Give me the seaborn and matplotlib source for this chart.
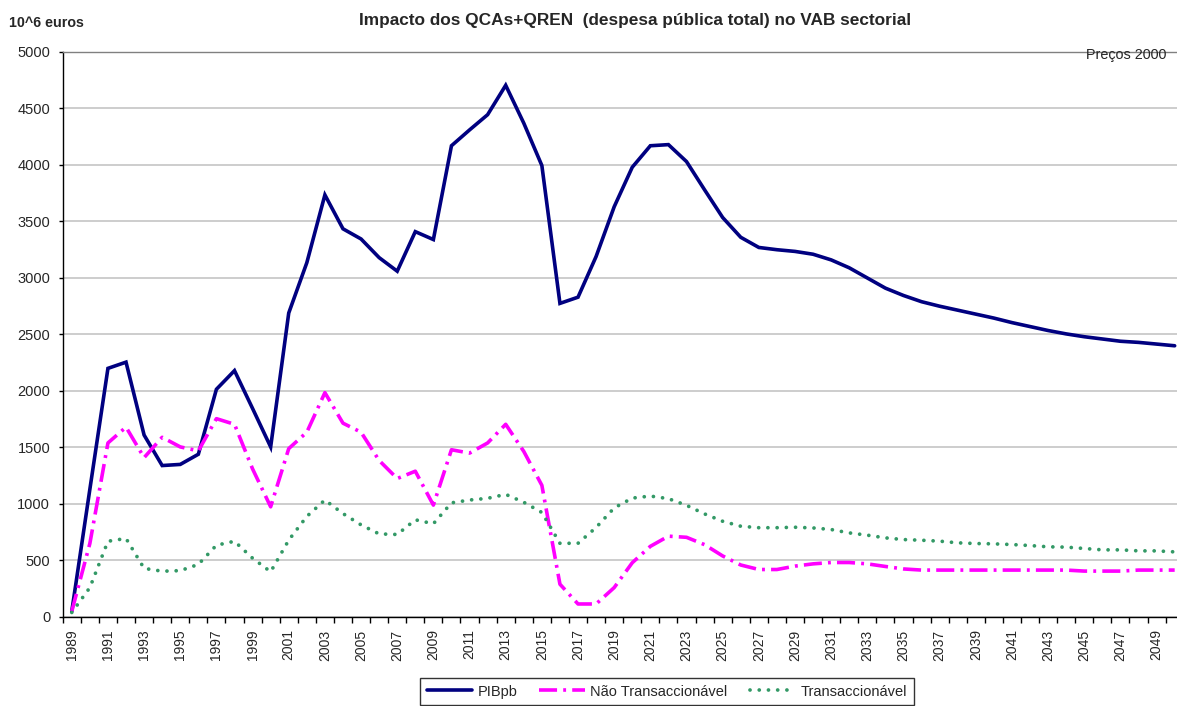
import numpy as np
import pandas as pd
import matplotlib
matplotlib.use("Agg")
import matplotlib.pyplot as plt
from matplotlib.ticker import FixedLocator, NullFormatter
import seaborn as sns

# data (10^6 euros, 2000 prices)
years = list(range(1989, 2051))

pibpb = [50, 1130, 2200, 2255, 1610, 1340, 1350, 1440, 2015, 2180,
         1845, 1505, 2690, 3135, 3735, 3435, 3345, 3180, 3060, 3410,
         3340, 4170, 4310, 4445, 4705, 4370, 3995, 2775, 2830, 3190,
         3630, 3980, 4170, 4180, 4030, 3780, 3535, 3360, 3270, 3250,
         3235, 3210, 3160, 3090, 3000, 2910, 2845, 2790, 2750, 2715,
         2680, 2645, 2605, 2570, 2535, 2505, 2480, 2460, 2440, 2430,
         2415, 2400]

nao_transaccionavel = [50, 650, 1540, 1680, 1410, 1590, 1505, 1470, 1755, 1705,
                       1310, 975, 1490, 1635, 1985, 1715, 1635, 1385, 1225, 1290,
                       990, 1480, 1450, 1540, 1705, 1465, 1165, 290, 115, 115,
                       260, 480, 625, 715, 705, 640, 540, 460, 420, 420,
                       450, 470, 482, 482, 470, 447, 425, 415, 415, 415,
                       415, 415, 415, 415, 415, 415, 406, 406, 406, 415,
                       415, 415]

transaccionavel = [40, 260, 670, 695, 430, 405, 410, 465, 635, 670,
                   520, 400, 680, 890, 1035, 915, 815, 735, 730, 860,
                   825, 1010, 1035, 1050, 1085, 1015, 925, 652, 652, 792,
                   965, 1052, 1070, 1047, 988, 912, 847, 803, 790, 790,
                   794, 788, 774, 744, 724, 700, 685, 679, 671, 656,
                   650, 647, 641, 632, 621, 618, 606, 594, 594, 585,
                   585, 576]

y_ticks = list(range(0, 5001, 500))
label_years = list(range(1989, 2050, 2))

df = pd.DataFrame({"ano": years, "PIBpb": pibpb,
                   "Não Transaccionável": nao_transaccionavel,
                   "Transaccionável": transaccionavel})

sns.set_style("white")
plt.rcParams["font.family"] = ["Liberation Sans", "DejaVu Sans"]

fig = plt.figure(figsize=(11.77, 7.06), dpi=100)
# plot area runs slightly past the right edge, as in the original crop
ax = fig.add_axes([0.0533, 0.1261, 0.9524, 0.8003])

sns.lineplot(data=df, x="ano", y="PIBpb", ax=ax, color="#000080",
             linewidth=2.6, label="PIBpb", solid_joinstyle="miter")
sns.lineplot(data=df, x="ano", y="Não Transaccionável", ax=ax, color="#FF00FF",
             linewidth=2.6, linestyle=(0, (5.0, 1.7, 0.8, 1.7)),
             label="Não Transaccionável")
sns.lineplot(data=df, x="ano", y="Transaccionável", ax=ax, color="#339966",
             linewidth=2.7, linestyle=(0, (0.01, 2.45)), dash_capstyle="round",
             label="Transaccionável")

ax.set_xlim(years[0] - 0.5, years[-1] + 0.5)
ax.set_ylim(0, 5000)
ax.set_yticks(y_ticks)
ax.yaxis.grid(True, color="#C0C0C0", linewidth=1.1)
ax.set_axisbelow(True)

# tick marks between categories, labels on every other year
ax.xaxis.set_major_locator(FixedLocator([y - 0.5 for y in years] + [years[-1] + 0.5]))
ax.xaxis.set_major_formatter(NullFormatter())
ax.xaxis.set_minor_locator(FixedLocator(label_years))
ax.set_xticklabels([str(y) for y in label_years], minor=True, rotation=90)
ax.tick_params(axis="x", which="major", length=4, width=1, color="black", direction="out", bottom=True)
ax.tick_params(axis="x", which="minor", length=0, pad=9, labelsize=10)
ax.tick_params(axis="y", length=3, width=1, color="black", direction="out", left=True,
               pad=6, labelsize=10.5)

ax.set_xlabel("")
ax.set_ylabel("")
for side in ["left", "bottom"]:
    ax.spines[side].set_color("black")
    ax.spines[side].set_linewidth(1.0)
ax.spines["top"].set_color("#808080")
ax.spines["top"].set_linewidth(1.0)
ax.spines["right"].set_visible(False)

ax.get_legend().remove()
handles, labels = ax.get_legend_handles_labels()
leg = fig.legend(handles, labels, loc="upper left", ncol=3,
                 bbox_to_anchor=(420 / 1177, 1 - 678 / 706),
                 frameon=True, fancybox=False, edgecolor="black", fontsize=10.5,
                 handlelength=3.1, handletextpad=0.4, columnspacing=1.5,
                 borderpad=0.45, borderaxespad=0)
leg.get_frame().set_linewidth(1.0)

fig.text(0.5395, 0.971, "Impacto dos QCAs+QREN  (despesa pública total) no VAB sectorial",
         ha="center", va="center", fontsize=12.4, fontweight="bold")
fig.text(0.008, 0.967, "10^6 euros", ha="left", va="center", fontsize=10.3, fontweight="bold")
fig.text(0.991, 0.922, "Preços 2000", ha="right", va="center", fontsize=10.4)

fig.savefig("out.png", dpi=100)
